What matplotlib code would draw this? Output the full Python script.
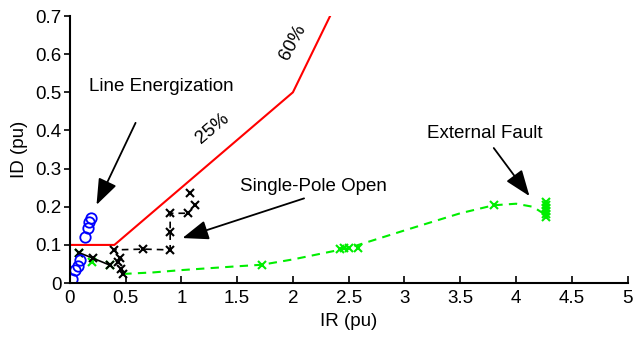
import matplotlib
matplotlib.use("Agg")
import matplotlib.pyplot as plt

plt.rcParams["font.family"] = ["Liberation Sans", "DejaVu Sans"]

# restraint characteristic (dual slope)
char_ir = [0.0, 0.4, 2.0, 2.35]
char_id = [0.1, 0.1, 0.5, 0.71]

# line energization
energ_ir = [0.02, 0.05, 0.07, 0.09, 0.14, 0.16, 0.175, 0.195]
energ_id = [0.01, 0.035, 0.045, 0.06, 0.12, 0.145, 0.16, 0.17]

# single-pole open trajectory
spo_solid_ir = [0.08, 0.21, 0.36]
spo_solid_id = [0.08, 0.065, 0.047]
spo_ir = [0.48, 0.46, 0.43, 0.45, 0.40, 0.66, 0.90, 0.90, 0.90, 1.06]
spo_id = [0.024, 0.038, 0.056, 0.065, 0.087, 0.089, 0.087, 0.135, 0.183, 0.183]
spo_extra_ir = [1.12, 1.08]
spo_extra_id = [0.205, 0.235]

# external fault
ext_curve_ir = [0.48, 0.75, 1.0, 1.5, 1.72, 2.0, 2.5, 3.0, 3.5, 3.8, 4.0, 4.15, 4.27]
ext_curve_id = [0.024, 0.028, 0.034, 0.044, 0.048, 0.062, 0.092, 0.138, 0.183, 0.204, 0.208, 0.2, 0.178]
ext_ir = [0.08, 0.20, 0.36, 1.72, 2.42, 2.46, 2.5, 2.58, 3.80,
          4.27, 4.27, 4.27, 4.27, 4.27, 4.27]
ext_id = [0.08, 0.055, 0.047, 0.048, 0.09, 0.092, 0.092, 0.093, 0.205,
          0.213, 0.205, 0.198, 0.19, 0.18, 0.172]

fig = plt.figure(figsize=(6.34, 3.37), dpi=100)
ax = fig.add_axes([0.110, 0.160, 0.880, 0.7925])

ax.plot(char_ir, char_id, color="red", lw=1.5)
ax.plot(ext_curve_ir, ext_curve_id, color="#00ee00", lw=1.5, ls=(0, (4, 3)))
ax.plot(ext_ir, ext_id, ls="none", marker="x", color="#00ee00", ms=6, mew=1.5)
ax.plot(spo_solid_ir, spo_solid_id, color="black", lw=1.2, marker="x", ms=6, mew=1.5)
ax.plot(spo_ir, spo_id, color="black", lw=1.2, ls=(0, (4, 3)), marker="x", ms=6, mew=1.5)
ax.plot(spo_extra_ir, spo_extra_id, ls="none", marker="x", color="black", ms=6, mew=1.5)
ax.plot(energ_ir, energ_id, ls="none", marker="o", mfc="none", mec="#0000ff", ms=7.5, mew=1.3)

arrow = dict(arrowstyle="-|>,head_length=0.8,head_width=0.3", color="black",
             lw=1.3, mutation_scale=20, shrinkA=0, shrinkB=0)
fs = 13.5
ax.text(0.82, 0.515, "Line Energization", fontsize=fs, ha="center", va="center")
ax.annotate("", xy=(0.24, 0.205), xytext=(0.59, 0.42), arrowprops=arrow)
ax.text(2.18, 0.254, "Single-Pole Open", fontsize=fs, ha="center", va="center")
ax.annotate("", xy=(1.01, 0.118), xytext=(2.1, 0.222), arrowprops=arrow)
ax.text(3.72, 0.393, "External Fault", fontsize=fs, ha="center", va="center")
ax.annotate("", xy=(4.12, 0.228), xytext=(3.8, 0.354), arrowprops=arrow)
ax.text(1.28, 0.405, "25%", fontsize=fs, ha="center", va="center", rotation=40)
ax.text(2.0, 0.63, "60%", fontsize=fs, ha="center", va="center", rotation=62)

ax.set_xlim(0, 5)
ax.set_ylim(0, 0.7)
ax.set_xticks([0, 0.5, 1, 1.5, 2, 2.5, 3, 3.5, 4, 4.5, 5])
ax.set_xticklabels(["0", "0.5", "1", "1.5", "2", "2.5", "3", "3.5", "4", "4.5", "5"])
ax.set_yticks([0, 0.1, 0.2, 0.3, 0.4, 0.5, 0.6, 0.7])
ax.set_yticklabels(["0", "0.1", "0.2", "0.3", "0.4", "0.5", "0.6", "0.7"])
ax.tick_params(axis="x", direction="in", length=5, width=1.2, labelsize=fs, pad=5)
ax.tick_params(axis="y", direction="out", length=4, width=1.2, labelsize=fs, pad=2)
ax.spines["top"].set_visible(False)
ax.spines["right"].set_visible(False)
ax.spines["left"].set_linewidth(1.5)
ax.spines["bottom"].set_linewidth(1.5)
ax.set_xlabel("IR (pu)", fontsize=fs, labelpad=4)
ax.set_ylabel("ID (pu)", fontsize=fs, labelpad=5)

fig.savefig("out.png", dpi=100)
